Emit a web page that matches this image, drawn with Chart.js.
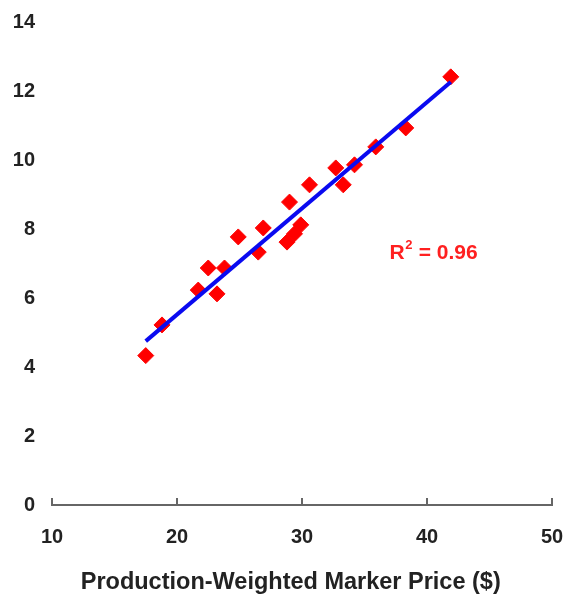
<!DOCTYPE html>
<html>
<head>
<meta charset="utf-8">
<script src="https://cdn.jsdelivr.net/npm/chart.js@4.4.1/dist/chart.umd.min.js"></script>
<style>
  html, body { margin: 0; padding: 0; background: #fff; }
  #wrap { width: 565px; height: 601px; }
</style>
</head>
<body>
<div id="wrap"><canvas id="c" width="565" height="601"></canvas></div>
<script>
// Data
const priceX = [17.5, 18.8, 21.7, 22.5, 23.2, 23.8, 24.9, 26.5, 26.9, 28.8, 29.4, 29.9, 29.0, 30.6, 32.7, 33.3, 34.2, 35.9, 38.3, 41.9];
const valueY = [4.33, 5.22, 6.23, 6.87, 6.12, 6.87, 7.77, 7.33, 8.03, 7.62, 7.86, 8.12, 8.78, 9.28, 9.77, 9.28, 9.86, 10.38, 10.93, 12.41];
const trendX = [17.5, 41.9];
const trendY = [4.75, 12.26];
const xTicks = [10, 20, 30, 40, 50];
const yTicks = [0, 2, 4, 6, 8, 10, 12, 14];
const xTitle = 'Production-Weighted Marker Price ($)';
const r2Label = '0.96';

const points = priceX.map((x, i) => ({ x: x, y: valueY[i] }));
const trend = trendX.map((x, i) => ({ x: x, y: trendY[i] }));

const FONT = 'Liberation Sans, Arial, sans-serif';

const extras = {
  id: 'extras',
  afterDraw(chart) {
    const ctx = chart.ctx;
    const xs = chart.scales.x, ys = chart.scales.y;
    const yAxis = chart.chartArea.bottom - 1;
    ctx.save();
    // inner tick marks on x axis
    ctx.strokeStyle = '#666';
    ctx.lineWidth = 2;
    xTicks.forEach(v => {
      const px = Math.round(xs.getPixelForValue(v));
      ctx.beginPath();
      ctx.moveTo(px, yAxis);
      ctx.lineTo(px, yAxis - 6);
      ctx.stroke();
    });
    // x axis title (slightly left of the plot centre, as in the reference)
    ctx.fillStyle = '#222';
    ctx.textAlign = 'center';
    ctx.textBaseline = 'middle';
    ctx.font = 'bold 23.5px ' + FONT;
    ctx.fillText(xTitle, xs.getPixelForValue(29.1), chart.height - 18);
    // R^2 annotation
    const tx = xs.getPixelForValue(37.0);
    const ty = ys.getPixelForValue(7.3);
    ctx.fillStyle = '#ff2020';
    ctx.textAlign = 'left';
    ctx.font = 'bold 21px ' + FONT;
    ctx.fillText('R', tx, ty);
    const w1 = ctx.measureText('R').width;
    ctx.font = 'bold 13px ' + FONT;
    ctx.fillText('2', tx + w1 + 0.5, ty - 8);
    const w2 = ctx.measureText('2').width;
    ctx.font = 'bold 21px ' + FONT;
    ctx.fillText(' = ' + r2Label, tx + w1 + w2 + 1, ty);
    ctx.restore();
  }
};

new Chart(document.getElementById('c'), {
  type: 'scatter',
  data: {
    datasets: [
      {
        label: 'Trend',
        data: trend,
        showLine: true,
        borderColor: '#0a0af0',
        borderWidth: 4,
        pointRadius: 0,
        fill: false
      },
      {
        label: 'Data',
        data: points,
        pointStyle: 'rectRot',
        pointRadius: 8,
        backgroundColor: '#ff0000',
        borderColor: '#ff0000',
        borderWidth: 1
      }
    ]
  },
  options: {
    responsive: false,
    animation: false,
    events: [],
    layout: { padding: { top: 22, right: 13, left: 0, bottom: 0 } },
    plugins: {
      legend: { display: false },
      tooltip: { enabled: false }
    },
    scales: {
      x: {
        type: 'linear',
        min: 10, max: 50,
        afterBuildTicks(scale) { scale.ticks = xTicks.map(v => ({ value: v })); },
        afterFit(scale) { scale.height = 96; scale.paddingLeft = 0; scale.paddingRight = 0; },
        grid: { display: false, drawTicks: false },
        border: { display: true, color: '#666', width: 2 },
        ticks: {
          padding: 20,
          color: '#222',
          font: { family: FONT, size: 20, weight: 'bold' }
        },
        title: { display: false }
      },
      y: {
        type: 'linear',
        min: 0, max: 14,
        afterBuildTicks(scale) { scale.ticks = yTicks.map(v => ({ value: v })); },
        afterFit(scale) { scale.width = 52; scale.paddingTop = 0; scale.paddingBottom = 0; },
        grid: { display: false, drawTicks: false },
        border: { display: false },
        ticks: {
          padding: 17,
          color: '#222',
          font: { family: FONT, size: 20, weight: 'bold' }
        }
      }
    }
  },
  plugins: [extras]
});
</script>
</body>
</html>
